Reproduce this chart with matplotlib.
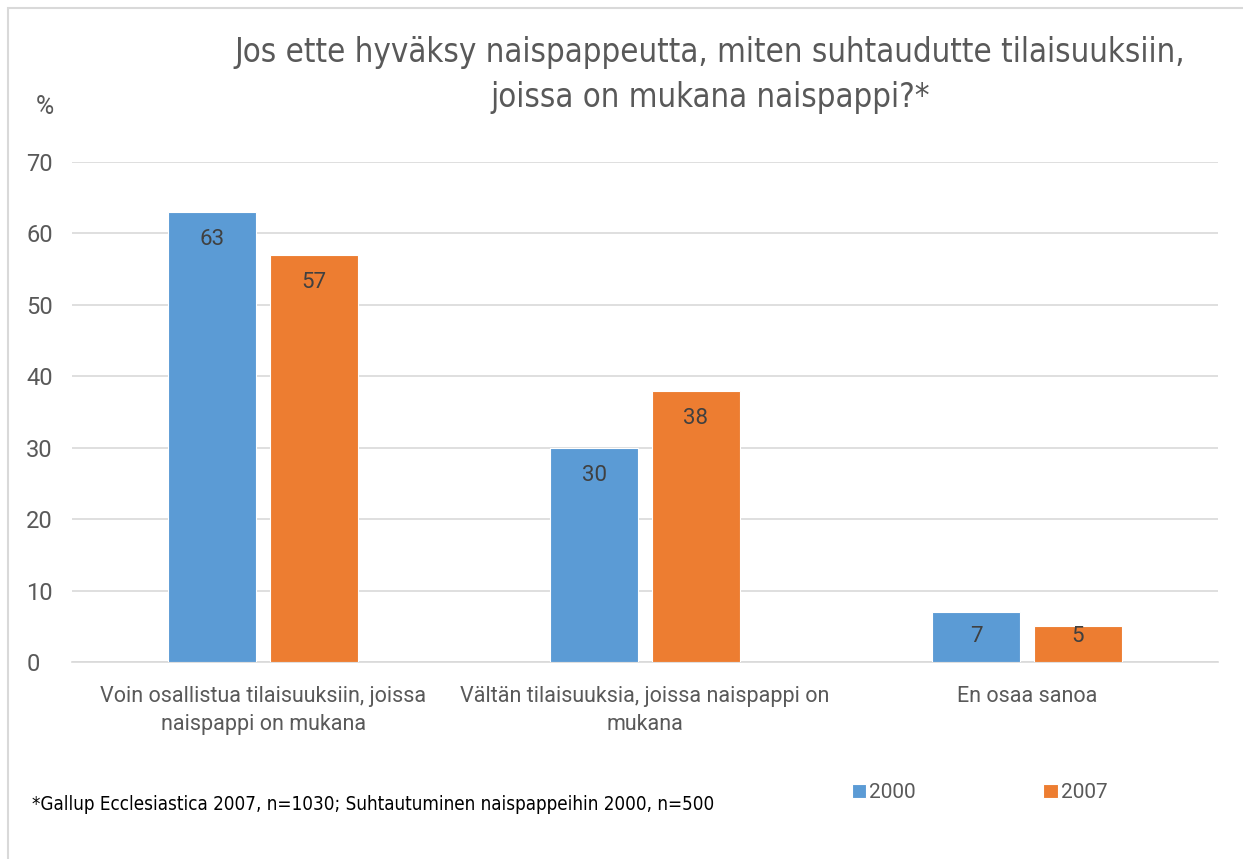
import matplotlib.pyplot as plt
import numpy as np
from matplotlib.patches import Rectangle

plt.rcParams['font.family'] = ['Roboto', 'DejaVu Sans']

categories = ["Voin osallistua tilaisuuksiin, joissa\nnaispappi on mukana",
              "Vältän tilaisuuksia, joissa naispappi on\nmukana",
              "En osaa sanoa"]
years = ["2000", "2007"]
values_2000 = [63, 30, 7]
values_2007 = [57, 38, 5]
colors = ["#5B9BD5", "#ED7D31"]
text_col = "#595959"

fig = plt.figure(figsize=(12.43, 8.59), dpi=100)
ax = fig.add_axes([0.058, 0.2293, 0.922, 0.5821])

x = np.arange(len(categories))
w = 0.23
off = 0.133
b1 = ax.bar(x - off, values_2000, w, color=colors[0], edgecolor='white', linewidth=0.8, label=years[0], zorder=3)
b2 = ax.bar(x + off, values_2007, w, color=colors[1], edgecolor='white', linewidth=0.8, label=years[1], zorder=3)

# labels inside the bar end; short bars get them pushed up a bit
for bars in (b1, b2):
    for r in bars:
        h = r.get_height()
        ax.text(r.get_x() + r.get_width() / 2, max(h - 3.9, 3.6), f"{h:g}",
                ha='center', va='center', fontsize=16, color='#404040', zorder=4)

ax.set_xlim(-0.5, 2.5)
ax.set_ylim(0, 70)
ax.set_yticks(range(0, 71, 10))
ax.grid(axis='y', color='#D9D9D9', linewidth=1.2, zorder=0)
ax.set_axisbelow(True)
for s in ['top', 'right', 'left']:
    ax.spines[s].set_visible(False)
ax.spines['bottom'].set_color('#D9D9D9')
ax.spines['bottom'].set_linewidth(1.2)
ax.tick_params(axis='both', length=0, colors=text_col)
ax.tick_params(axis='x', labelsize=15.5, pad=17)
ax.tick_params(axis='y', labelsize=17, pad=33)
ax.set_xticks(x)
ax.set_xticklabels(categories, fontsize=15.5, color=text_col, linespacing=1.45)
for lbl in ax.get_yticklabels():
    lbl.set_horizontalalignment('left')

fig.text(0.571, 0.913, "Jos ette hyväksy naispappeutta, miten suhtaudutte tilaisuuksiin,\njoissa on mukana naispappi?*",
         ha='center', va='center', fontsize=23.7, color=text_col, linespacing=1.45,
         family=['DejaVu Sans'], fontstretch='condensed')
fig.text(0.029, 0.875, "%", ha='left', va='center', fontsize=18, color=text_col)
fig.text(0.026, 0.063, "*Gallup Ecclesiastica 2007, n=1030; Suhtautuminen naispappeihin 2000, n=500",
         ha='left', va='center', fontsize=13.5, color='black',
         family=['DejaVu Sans'], fontstretch='condensed')

fig.legend(handles=[b1, b2], labels=years, loc='center left', bbox_to_anchor=(0.670, 0.077),
           ncol=2, frameon=False, fontsize=15, labelcolor=text_col, handlelength=0.7,
           handleheight=0.7, handletextpad=0.15, columnspacing=6.1)

fig.patches.append(Rectangle((0.0065, -0.05), 1.1, 1.0405, transform=fig.transFigure,
                             fill=False, edgecolor='#D9D9D9', linewidth=1.5))

fig.savefig("out.png", dpi=100)
